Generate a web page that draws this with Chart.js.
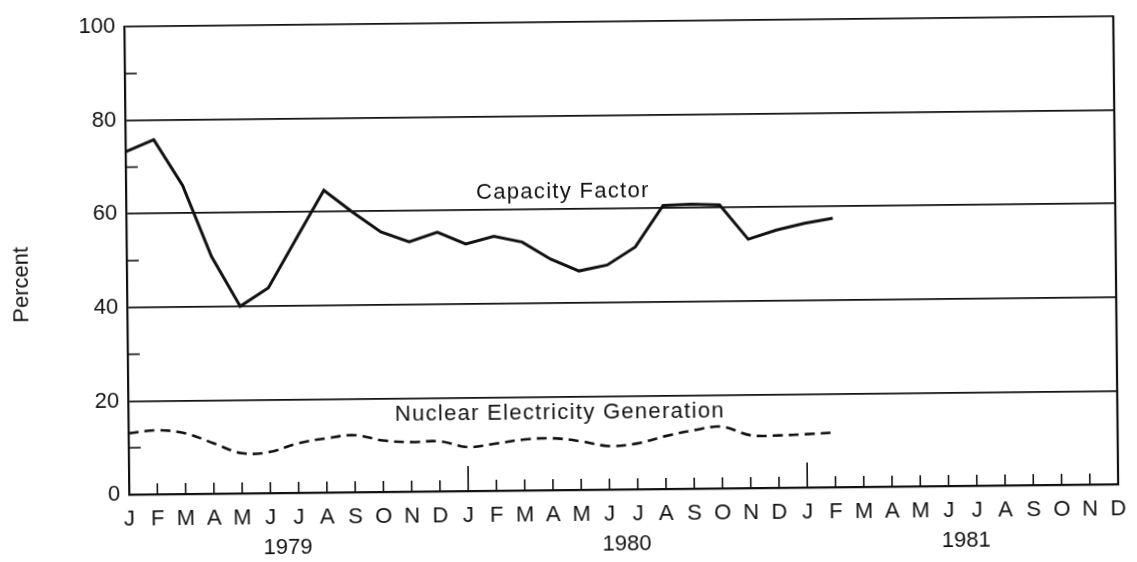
<!DOCTYPE html>
<html>
<head>
<meta charset="utf-8">
<script src="https://cdn.jsdelivr.net/npm/chart.js@4/dist/chart.umd.min.js"></script>
<style>
  html, body { margin: 0; padding: 0; background: #fff; overflow: hidden; }
  canvas { display: block; transform: rotate(-0.6deg); }
</style>
</head>
<body>
<canvas id="nuclearChart" width="1137" height="562"></canvas>
<script>
// Monthly values, Jan 1979 onwards
const months = ['J', 'F', 'M', 'A', 'M', 'J', 'J', 'A', 'S', 'O', 'N', 'D'];
const years = ['1979', '1980', '1981'];
const monthLabels = years.flatMap(() => months);

const capacityFactor = [
    73.3, 75.8, 66, 50.7, 40, 43.9, 54.3, 64.6, 59.9, 55.6, 53.4, 55.4,
    52.8, 54.4, 53.1, 49.4, 46.8, 48, 51.8, 60.6, 60.8, 60.6, 53.2, 55.1,
    56.5, 57.5
];
const nuclearGeneration = [
    13.1, 13.7, 13, 10.8, 8.6, 8.8, 10.6, 11.6, 12.2, 11, 10.6, 10.7,
    9.4, 10.1, 10.9, 11.1, 10.4, 9.3, 9.8, 11.3, 12.5, 13.2, 11.3, 11.2,
    11.4, 11.7
];

const yTicks = [0, 20, 40, 60, 80, 100];
const yMinorTicks = [10, 30, 50, 70, 90];
const seriesNotes = [
    { text: 'Capacity Factor', x: 15.46, y: 63.7 },
    { text: 'Nuclear Electricity Generation', x: 15.27, y: 16.5 }
];

const ink = '#111';
const font = { family: "'Liberation Sans', Arial, sans-serif", size: 22 };
const fontCss = "22px 'Liberation Sans', Arial, sans-serif";

// ticks, frame and text labels drawn on top of the chart area
const frameAndNotes = {
    id: 'frameAndNotes',
    afterDraw(chart) {
        const { ctx, chartArea: a, scales: { x, y } } = chart;
        ctx.save();
        ctx.strokeStyle = ink;
        ctx.fillStyle = ink;

        // right side of the box
        ctx.lineWidth = 2.2;
        ctx.beginPath();
        ctx.moveTo(a.right, a.top - 1);
        ctx.lineTo(a.right, a.bottom + 1);
        ctx.stroke();

        // minor ticks on the percent axis
        ctx.lineWidth = 1.6;
        yMinorTicks.forEach(v => {
            const py = y.getPixelForValue(v);
            ctx.beginPath();
            ctx.moveTo(a.left, py);
            ctx.lineTo(a.left + 12, py);
            ctx.stroke();
        });

        // month ticks, taller at each January
        for (let i = 1; i < monthLabels.length - 1; i++) {
            const px = x.getPixelForValue(i);
            const len = i % 12 === 0 ? 25 : 11;
            ctx.beginPath();
            ctx.moveTo(px, a.bottom);
            ctx.lineTo(px, a.bottom - len);
            ctx.stroke();
        }

        ctx.font = fontCss;
        ctx.textAlign = 'center';
        ctx.textBaseline = 'middle';

        // years under the month letters
        years.forEach((yr, k) => {
            ctx.fillText(yr, x.getPixelForValue(k * 12 + 5.6), a.bottom + 55);
        });

        // series names
        ctx.letterSpacing = '1.3px';
        seriesNotes.forEach(n => {
            ctx.fillText(n.text, x.getPixelForValue(n.x), y.getPixelForValue(n.y));
        });
        ctx.letterSpacing = '0px';

        // axis title
        ctx.translate(22, (a.top + a.bottom) / 2 + 23);
        ctx.rotate(-Math.PI / 2);
        ctx.fillText('Percent', 0, 0);
        ctx.restore();
    }
};

const ctx = document.getElementById('nuclearChart').getContext('2d');
const chart = new Chart(ctx, {
    type: 'line',
    data: {
        labels: monthLabels,
        datasets: [{
            label: 'Capacity Factor',
            data: capacityFactor,
            borderColor: ink,
            borderWidth: 3,
            pointRadius: 0,
            tension: 0,
            fill: false
        }, {
            label: 'Nuclear Electricity Generation',
            data: nuclearGeneration,
            borderColor: ink,
            borderWidth: 2.6,
            borderDash: [10, 6],
            pointRadius: 0,
            tension: 0.35,
            fill: false
        }]
    },
    options: {
        responsive: false,
        animation: false,
        events: [],
        layout: { padding: { top: 16, right: 21, left: 0, bottom: 0 } },
        plugins: { legend: { display: false }, tooltip: { enabled: false } },
        scales: {
            x: {
                offset: false,
                grid: { display: false, drawTicks: false },
                border: { display: true, color: ink, width: 2.2 },
                ticks: { autoSkip: false, maxRotation: 0, padding: 12, color: ink, font },
                afterFit: s => { s.height = 72; }
            },
            y: {
                min: 0,
                max: 100,
                grid: {
                    drawTicks: false,
                    lineWidth: 1.8,
                    color: c => yTicks.includes(c.tick.value) ? ink : 'rgba(0,0,0,0)'
                },
                border: { display: true, color: ink, width: 2.2 },
                ticks: {
                    stepSize: 10,
                    padding: 9,
                    color: ink,
                    font,
                    callback: v => yTicks.includes(v) ? v : ''
                },
                afterFit: s => { s.width = 127; }
            }
        }
    },
    plugins: [frameAndNotes]
});
</script>
</body>
</html>
